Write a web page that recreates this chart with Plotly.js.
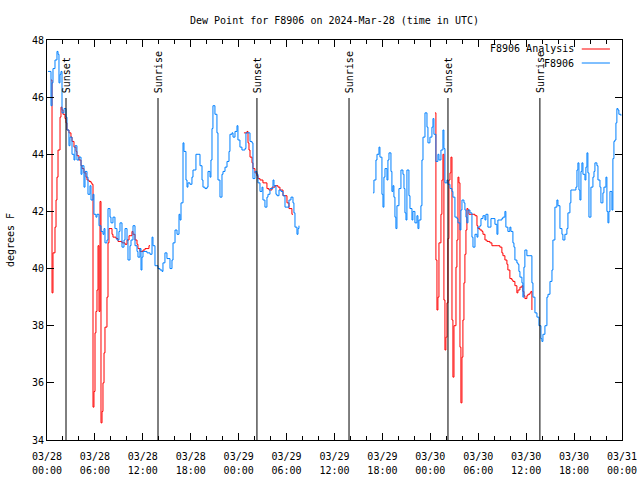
<!DOCTYPE html>
<html><head><meta charset="utf-8">
<script src="https://cdn.plot.ly/plotly-3.0.1.min.js"></script>
<style>body{margin:0;background:#fff}#chart{width:640px;height:480px}</style>
</head><body><div id="chart"></div>
<script>
// Hours since 2024-03-28 00:00 UTC
const blueSeg1Hours = [0.13,0.38,0.50,0.63,0.75,1.00,1.25,1.38,1.50,1.63,1.75,1.88,2.13,2.38,2.50,2.75,2.88,3.13,3.38,3.50,3.75,4.00,4.26,4.38,4.63,4.76,5.01,5.13,5.38,5.51,5.76,5.88,6.13,6.26,6.51,6.76,7.01,7.14,7.26,7.51,7.64,7.89,8.01,8.26,8.51,8.76,9.01,9.14,9.39,9.64,9.77,10.02,10.14,10.39,10.52,10.77,11.02,11.27,11.39,11.64,11.77,11.89,12.02,12.52,12.90,13.15,13.27,13.52,13.90,14.15,14.40,14.52,14.77,15.02,15.40,15.65,15.78,16.03,16.28,16.53,16.65,16.78,17.03,17.15,17.40,17.53,17.65,17.90,18.15,18.28,18.65,18.91,19.16,19.41,19.53,19.78,20.03,20.16,20.41,20.53,20.66,20.78,21.03,21.28,21.41,21.66,21.91,22.04,22.29,22.54,22.79,22.91,23.16,23.29,23.54,23.79,23.91,24.16,24.41,24.79,24.91,25.17,25.42,25.67,25.79,26.04,26.29,26.42,26.67,26.92,27.04,27.29,27.54,27.67,27.92,28.30,28.42,28.67,28.80,29.05,29.30,29.55,29.80,30.05,30.30,30.55,30.80,30.92,31.05,31.30,31.43,31.55];
const blueSeg1Dew = [46.9,46.9,45.7,46.5,47.0,47.3,47.6,47.5,46.5,46.8,46.9,45.45,45.6,45.3,44.85,44.3,44.6,44.0,43.8,44.3,43.8,43.9,43.3,43.6,42.85,43.4,43.2,42.6,42.9,42.4,42.6,41.9,41.8,41.9,41.5,41.3,41.2,41.4,40.9,41.0,42.1,41.8,41.6,41.8,41.4,41.0,41.3,41.6,40.75,41.0,41.4,41.0,40.3,40.8,41.0,41.5,40.8,40.6,40.4,40.7,39.95,40.4,40.6,40.55,40.5,41.1,40.8,40.1,40.0,39.95,39.9,40.2,40.55,40.35,40.0,40.3,40.9,41.35,41.2,41.9,41.7,42.3,44.4,44.1,43.1,42.85,43.0,42.95,43.2,43.45,44.0,44.0,43.6,43.1,42.85,42.8,42.85,43.4,43.2,43.8,44.9,45.7,45.4,44.75,43.1,42.5,43.3,43.4,43.55,43.75,44.1,44.7,44.75,44.6,44.8,45.0,44.5,44.25,44.15,44.2,44.75,44.75,44.45,44.4,43.15,43.4,43.3,43.0,42.7,42.85,42.4,42.15,42.5,42.6,42.8,43.1,42.9,42.6,42.55,42.75,42.7,42.55,42.15,42.15,42.4,42.5,42.3,41.95,41.45,41.2,41.4,41.5];

const blueSeg2Hours = [40.82,40.94,41.19,41.32,41.57,41.69,41.94,42.07,42.19,42.32,42.57,42.69,42.82,43.07,43.19,43.32,43.44,43.57,43.69,43.82,44.07,44.32,44.57,44.70,44.82,44.95,45.07,45.32,45.45,45.70,45.82,46.07,46.32,46.45,46.57,46.82,46.95,47.08,47.33,47.58,47.70,47.95,48.20,48.33,48.45,48.70,48.95,49.08,49.33,49.58,49.70,49.83,50.08,50.21,50.33,50.46,50.71,50.83,51.08,51.33,51.46,51.71,51.83,51.96,52.21,52.33,52.46,52.58,52.71,52.96,53.21,53.34,53.59,53.84,53.96,54.21,54.34,54.59,54.84,54.96,55.21,55.46,55.59,55.84,56.09,56.34,56.46,56.71,56.96,57.09,57.34,57.46,57.71,57.96,58.09,58.34,58.47,58.59,58.84,58.97,59.09,59.22,59.47,59.59,59.72,59.84,60.09,60.47,60.72,60.85,61.10,61.35,61.47,61.60,61.85,61.97,62.10,62.35,62.60,62.73,62.98,63.23,63.35,63.60,63.85,63.98,64.23,64.48,64.60,64.85,65.10,65.23,65.48,65.60,65.85,66.23,66.36,66.48,66.61,66.73,66.86,66.98,67.11,67.36,67.48,67.61,67.73,67.86,68.11,68.36,68.49,68.61,68.86,68.99,69.24,69.36,69.61,69.74,69.99,70.11,70.24,70.36,70.49,70.74,70.86,70.99,71.11,71.24,71.36,71.49,71.61,71.86];
const blueSeg2Dew = [42.65,43.1,43.8,44.0,44.25,43.9,42.6,42.15,43.2,43.5,43.1,43.8,44.05,43.4,42.7,42.9,42.5,41.8,41.4,42.2,42.8,43.45,43.3,42.8,41.95,41.7,43.45,42.55,42.1,41.7,42.0,41.6,41.85,41.4,41.7,42.2,43.8,44.6,45.45,44.95,44.4,44.6,44.95,45.25,44.7,43.75,44.0,43.8,44.15,44.85,44.2,43.0,43.1,42.95,42.95,42.8,42.7,42.5,41.8,41.75,41.6,41.35,42.05,42.4,42.3,42.05,41.8,41.6,42.05,41.95,41.1,40.75,41.2,41.1,41.45,41.5,41.75,41.85,41.7,41.9,41.45,41.45,41.75,41.75,41.55,41.2,41.7,41.7,41.75,41.8,42.0,41.45,41.3,41.45,41.3,40.9,40.75,40.3,40.2,40.15,39.9,39.7,39.5,39.0,40.05,40.65,40.45,40.45,39.5,39.0,38.45,38.3,38.3,38.0,37.55,37.45,37.7,38.0,39.0,39.1,39.55,39.95,41.0,42.15,42.4,42.2,41.4,41.2,41.0,41.2,41.4,41.95,42.3,42.75,42.75,42.85,43.45,43.7,42.75,42.4,43.4,43.7,43.3,43.1,43.55,44.05,43.35,41.8,42.85,43.2,43.4,43.7,43.6,43.1,42.85,42.3,42.65,42.85,43.2,42.0,41.6,42.0,42.7,42.05,43.85,44.45,44.5,45.1,45.6,45.55,45.4,45.35];

const redSeg1Hours = [0.50,0.63,0.75,1.00,1.13,1.25,1.38,1.63,1.75,1.88,2.00,2.25,2.38,2.50,2.75,3.00,3.13,3.38,3.63,3.75,4.00,4.26,4.38,4.63,4.88,5.01,5.26,5.51,5.63,5.76,5.88,6.01,6.13,6.26,6.39,6.51,6.64,6.76,6.89,7.01,7.14,7.26,7.51,7.64,7.76,8.14,8.26,8.64,8.89,9.39,9.77,10.02,10.27,10.64,10.77,11.02,11.27,11.39,11.64,12.02,12.27,12.52,12.77,12.90];
const redSeg1Dew = [46.6,39.15,40.55,41.45,42.4,43.2,44.15,45.3,45.65,45.55,45.4,45.25,45.1,44.85,44.75,44.6,44.45,44.25,44.1,43.95,43.8,43.6,43.5,43.35,43.2,43.1,43.05,43.0,42.95,35.15,35.7,37.75,38.5,39.25,40.8,38.5,42.35,34.6,35.0,36.0,37.05,37.95,39.0,40.9,41.4,41.2,41.1,41.05,40.95,40.9,40.85,41.0,41.15,41.3,41.2,41.0,40.85,40.7,40.6,40.65,40.7,40.7,40.8,40.8];

const redSeg2Hours = [24.66,25.04,25.17,25.29,25.42,25.67,25.79,26.04,26.29,26.42,26.67,27.04,27.54,27.79,28.17,28.55,28.92,29.17,29.55,30.05,30.30,30.67,30.80];
const redSeg2Dew = [44.75,44.8,44.4,44.15,43.9,43.7,43.5,43.35,43.25,43.15,43.1,43.0,42.8,42.75,42.85,42.9,42.85,42.75,42.55,42.3,42.1,41.9,41.9];

const redSeg3Hours = [48.58,48.70,48.83,48.95,49.08,49.33,49.45,49.58,49.70,49.83,49.95,50.08,50.21,50.33,50.46,50.58,50.71,50.83,50.96,51.21,51.33,51.46,51.58,51.71,51.83,51.96,52.08,52.21,52.33,52.46,52.58,52.71,52.83,53.21,53.59,53.84,53.96,54.21,54.46,54.59,54.84,55.09,55.46,55.71,56.09,56.46,56.71,56.96,57.09,57.34,57.59,57.71,57.96,58.21,58.34,58.59,58.84,58.97,59.22,59.47,59.59,59.72,59.84,60.09,60.22,60.47,60.59,60.72];
const redSeg3Dew = [45.45,40.3,38.55,39.0,40.9,41.9,43.1,44.0,38.9,37.15,37.6,38.8,41.05,43.1,43.35,43.9,38.2,36.2,38.0,40.05,41.0,43.2,43.0,37.25,35.3,36.9,38.2,39.5,40.5,41.35,42.1,42.05,41.9,41.9,41.85,41.5,41.4,41.35,41.3,41.2,41.0,40.95,40.9,40.8,40.8,40.8,40.75,40.55,40.45,40.3,40.15,39.95,39.65,39.6,39.55,39.4,39.15,39.25,39.35,39.4,39.2,39.05,38.95,39.05,39.1,39.15,39.2,38.55];

const sunEventHours = [2.38, 13.90, 26.29, 37.82, 50.21, 61.72];
const sunEventLabels = ['Sunset', 'Sunrise', 'Sunset', 'Sunrise', 'Sunset', 'Sunrise'];

const xTickHours = [0,6,12,18,24,30,36,42,48,54,60,66,72];
const xTickDates = ['03/28','03/28','03/28','03/28','03/29','03/29','03/29','03/29','03/30','03/30','03/30','03/30','03/31'];
const xTickTimes = ['00:00','06:00','12:00','18:00','00:00','06:00','12:00','18:00','00:00','06:00','12:00','18:00','00:00'];

const seriesNames = ['F8906 Analysis', 'F8906'];
const seriesColors = ['#ff0000', '#0080ff'];

function joinSegs(segs) {
  const x = [], y = [];
  segs.forEach((s, i) => {
    if (i > 0) { x.push(null); y.push(null); }
    x.push(...s[0]); y.push(...s[1]);
  });
  return {x, y};
}
const red = joinSegs([[redSeg1Hours, redSeg1Dew], [redSeg2Hours, redSeg2Dew], [redSeg3Hours, redSeg3Dew]]);
const blue = joinSegs([[blueSeg1Hours, blueSeg1Dew], [blueSeg2Hours, blueSeg2Dew]]);

const FONT = 'DejaVu Sans Mono, monospace';
const tf = {family: FONT, size: 10, color: 'black'};

const traces = [
  {x: red.x, y: red.y, type: 'scatter', mode: 'lines', name: seriesNames[0],
   line: {color: seriesColors[0], width: 1, shape: 'hv'}, connectgaps: false, showlegend: false},
  {x: blue.x, y: blue.y, type: 'scatter', mode: 'lines', name: seriesNames[1],
   line: {color: seriesColors[1], width: 1, shape: 'hv'}, connectgaps: false, showlegend: false},
  // invisible carrier for the second line of x tick labels
  {x: [0, 72], y: [null, null], xaxis: 'x2', yaxis: 'y', type: 'scatter', mode: 'lines',
   showlegend: false, hoverinfo: 'skip'}
];

const shapes = [];
const annotations = [];
sunEventHours.forEach((h, i) => {
  shapes.push({type: 'line', xref: 'x', yref: 'paper', x0: h, x1: h, y0: 0, y1: 0.855,
    line: {color: 'black', width: 1}});
  annotations.push({text: sunEventLabels[i], xref: 'x', yref: 'paper', x: h, y: 0.862,
    textangle: -90, xanchor: 'center', yanchor: 'bottom', showarrow: false, font: tf});
});
// legend (gnuplot style: text then sample line)
seriesNames.forEach((n, i) => {
  const yy = 0.9775 - i * 0.035;
  annotations.push({text: n, xref: 'paper', yref: 'paper', x: 0.92, y: yy,
    xanchor: 'right', yanchor: 'middle', showarrow: false, font: tf});
  shapes.push({type: 'line', xref: 'paper', yref: 'paper', x0: 0.930, x1: 0.979, y0: yy, y1: yy,
    line: {color: seriesColors[i], width: 1}});
});

const layout = {
  width: 640, height: 480,
  margin: {l: 47, r: 18, t: 40, b: 40},
  paper_bgcolor: '#fff', plot_bgcolor: '#fff',
  font: tf,
  title: {text: 'Dew Point for F8906 on 2024-Mar-28 (time in UTC)', x: 0.5, xref: 'paper',
    y: 0.958, yref: 'container', yanchor: 'middle', font: tf},
  xaxis: {range: [0, 72], tickmode: 'array', tickvals: xTickHours, ticktext: xTickDates,
    ticks: 'inside', ticklen: 7, tickcolor: 'black', showline: true, linecolor: 'black', linewidth: 1,
    mirror: 'ticks', showgrid: false, zeroline: false, ticklabelstandoff: 7,
    minor: {tick0: 0, dtick: 2, ticks: 'inside', ticklen: 4, tickcolor: 'black', showgrid: false},
    tickfont: tf},
  xaxis2: {range: [0, 72], overlaying: 'x', anchor: 'y', side: 'bottom', tickmode: 'array',
    tickvals: xTickHours, ticktext: xTickTimes, ticks: '', showline: false, showgrid: false,
    zeroline: false, ticklabelstandoff: 23, tickfont: tf},
  yaxis: {range: [34, 48], dtick: 2, tick0: 34, ticks: 'inside', ticklen: 7, tickcolor: 'black',
    showline: true, linecolor: 'black', linewidth: 1, mirror: 'ticks', showgrid: false, zeroline: false,
    tickfont: tf,
    title: {text: 'degrees F', standoff: 15, font: tf}},
  shapes: shapes,
  annotations: annotations,
  showlegend: false
};

Plotly.newPlot('chart', traces, layout, {displayModeBar: false, staticPlot: true});
</script>
</body></html>
